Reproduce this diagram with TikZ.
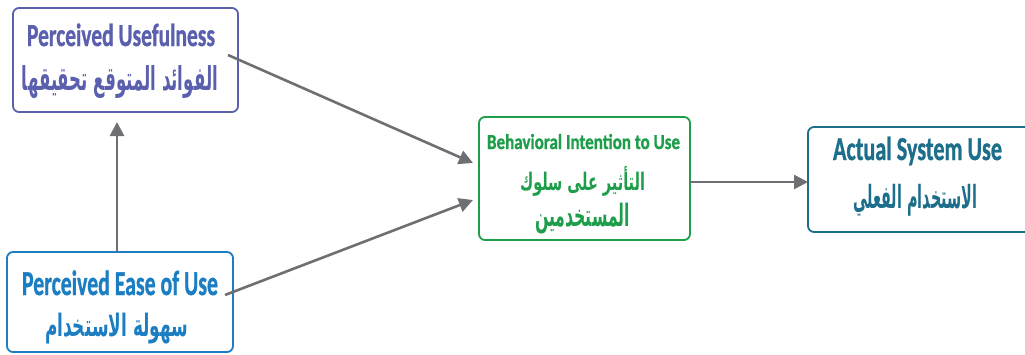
\documentclass[tikz,border=0pt]{standalone}
\usepackage{fontspec}
\setmainfont{Carlito}[BoldFeatures={FakeBold=1.2}]
\newfontfamily\arabicfont[Script=Arabic]{DejaVu Sans}
\TeXXeTstate=1
\usetikzlibrary{arrows.meta}
\definecolor{cpu}{HTML}{5A5FAE}
\definecolor{cpe}{HTML}{1B7DC2}
\definecolor{cbi}{HTML}{1E9E4A}
\definecolor{cas}{HTML}{1C6E8B}
\definecolor{cgray}{HTML}{6E6F72}
\tikzset{
  box/.style={draw, line width=1.8pt, rounded corners=6pt, inner sep=0pt},
  lbl/.style={inner sep=0pt, outer sep=0pt},
  arlbl/.style={inner sep=0pt, outer sep=0pt, anchor=north west},
  conn/.style={draw=cgray, line width=2.6pt, -{Triangle[length=14pt,width=14pt]}}
}
\newcommand{\entext}[3]{\resizebox{#1pt}{#2pt}{\bfseries #3}}
\newcommand{\artext}[3]{\resizebox*{#1pt}{#2pt}{\arabicfont\bfseries #3}}
\begin{document}
\begin{tikzpicture}[x=1pt,y=-1pt]
\useasboundingbox (0,0) rectangle (1025,354);
% boxes
\node[box, draw=cpu, minimum width=225pt, minimum height=104pt] (pu) at (125.5,60) {};
\node[box, draw=cpe, minimum width=226pt, minimum height=100pt] (pe) at (120,302) {};
\node[box, draw=cbi, minimum width=211pt, minimum height=123pt] (bi) at (584.5,178.5) {};
\node[box, draw=cas, minimum width=232pt, minimum height=105pt] (as) at (924,179.5) {};
% texts
\node[lbl, anchor=base west, text=cpu] (puen) at (27,46) {\entext{188}{22.5}{Perceived Usefulness}};
\node[arlbl, text=cpu] (puar) at (22,66) {\artext{196}{33}{\beginR الفوائد المتوقع تحقيقها\endR}};
\node[lbl, anchor=base west, text=cpe] (peen) at (22,295) {\entext{196}{24.5}{Perceived Ease of Use}};
\node[arlbl, text=cpe] (pear) at (45,313) {\artext{143}{31}{\beginR سهولة الاستخدام\endR}};
\node[lbl, anchor=base west, text=cbi] (bien) at (487,149) {\entext{193}{15}{Behavioral Intention to Use}};
\node[arlbl, text=cbi] (biar1) at (520,166) {\artext{125}{30}{\beginR التأثير على سلوك\endR}};
\node[arlbl, text=cbi] (biar2) at (535,203) {\artext{95}{31}{\beginR المستخدمين\endR}};
\node[lbl, anchor=base west, text=cas] (asen) at (833,160) {\entext{169}{23.5}{Actual System Use}};
\node[arlbl, text=cas] (asar) at (853,184) {\artext{124}{32}{\beginR الاستخدام الفعلي\endR}};
% connector ends
\coordinate (puout) at (228,55);
\coordinate (peout) at (225,295);
\coordinate (bitop) at (473,163);
\coordinate (bibot) at (473,200);
\coordinate (petop) at (117,252);
\coordinate (pubot) at (117,122);
\coordinate (biout) at (690,182);
\coordinate (asin) at (808,182);
\draw[conn] (puout) -- (bitop);
\draw[conn] (peout) -- (bibot);
\draw[conn] (petop) -- (pubot);
\draw[conn] (biout) -- (asin);
\end{tikzpicture}
\end{document}
